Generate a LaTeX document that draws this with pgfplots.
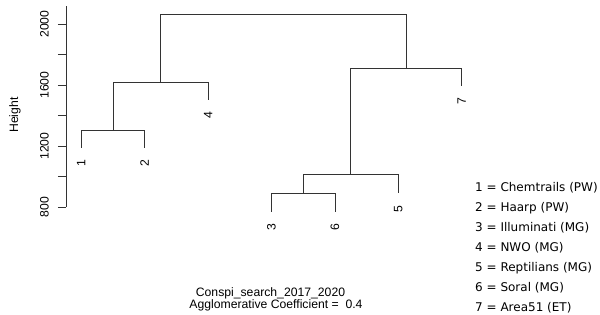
\documentclass[border=0pt]{standalone}
\usepackage{pgfplots}
\pgfplotsset{compat=1.18}
\usepackage{fontspec}
\setmainfont{Liberation Sans}
\newfontfamily\legfont{DejaVu Sans}
\newcommand\rfont{\fontsize{12.2}{14}\selectfont}
\begin{document}
\begin{tikzpicture}[x=1pt,y=1pt]
\path[use as bounding box] (-66,-107) rectangle (534,207);
\begin{axis}[
  at={(0,0)}, anchor=south west,
  scale only axis, width=411pt, height=201pt,
  xmin=0.76, xmax=7.24, ymin=800, ymax=2118,
  axis x line=none, axis y line*=left,
  clip=false,
  ytick={800,1000,...,2000},
  yticklabels={800,,1200,,1600,,2000},
  tick align=outside, major tick length=8pt,
  y axis line style={black!80, line width=0.7pt},
  ytick style={black!80, line width=0.7pt},
  yticklabel shift=9pt,
  yticklabel style={font=\rfont, rotate=90, anchor=south, inner sep=0pt},
  /pgf/number format/assume math mode=true,
]
% merge 1,2
\addplot[black!80, line width=0.7pt, mark=none] coordinates {(1,1189) (1,1305) (2,1305) (2,1189)};
% merge (1,2),4
\addplot[black!80, line width=0.7pt, mark=none] coordinates {(1.5,1305) (1.5,1618) (3,1618) (3,1501)};
% merge 3,6
\addplot[black!80, line width=0.7pt, mark=none] coordinates {(4,768) (4,889) (5,889) (5,768)};
% merge (3,6),5
\addplot[black!80, line width=0.7pt, mark=none] coordinates {(4.5,889) (4.5,1014) (6,1014) (6,889)};
% merge ((3,6),5),7
\addplot[black!80, line width=0.7pt, mark=none] coordinates {(5.25,1014) (5.25,1709) (7,1709) (7,1593)};
% top merge
\addplot[black!80, line width=0.7pt, mark=none] coordinates {(2.25,1618) (2.25,2064) (6.125,2064) (6.125,1709)};
% leaf labels
\node[yshift=-11.7pt, rotate=90, anchor=east, inner sep=0pt, font=\rfont] at (axis cs:1,1189) {1};
\node[yshift=-11.7pt, rotate=90, anchor=east, inner sep=0pt, font=\rfont] at (axis cs:2,1189) {2};
\node[yshift=-11.7pt, rotate=90, anchor=east, inner sep=0pt, font=\rfont] at (axis cs:3,1501) {4};
\node[yshift=-11.7pt, rotate=90, anchor=east, inner sep=0pt, font=\rfont] at (axis cs:4,768) {3};
\node[yshift=-11.7pt, rotate=90, anchor=east, inner sep=0pt, font=\rfont] at (axis cs:5,768) {6};
\node[yshift=-11.7pt, rotate=90, anchor=east, inner sep=0pt, font=\rfont] at (axis cs:6,889) {5};
\node[yshift=-11.7pt, rotate=90, anchor=east, inner sep=0pt, font=\rfont] at (axis cs:7,1593) {7};
\end{axis}
\node[rotate=90, font=\rfont, inner sep=0pt] at (-51,92) {Height};
\node[anchor=base, inner sep=0pt, font=\rfont] at (204.5,-89.5) {Conspi\_search\_2017\_2020};
\node[anchor=base, inner sep=0pt, font=\rfont] at (210,-101.5) {Agglomerative Coefficient = \ 0.4};
\begin{scope}[every node/.style={anchor=base west, inner sep=0pt, font=\legfont\fontsize{12}{14}\selectfont}]
\node at (409,15.9) {1 = Chemtrails (PW)};
\node at (409,-4.1) {2 = Haarp (PW)};
\node at (409,-24.1) {3 = Illuminati (MG)};
\node at (409,-44.1) {4 = NWO (MG)};
\node at (409,-64.1) {5 = Reptilians (MG)};
\node at (409,-84.1) {6 = Soral (MG)};
\node at (409,-104.1) {7 = Area51 (ET)};
\end{scope}
\end{tikzpicture}
\end{document}
